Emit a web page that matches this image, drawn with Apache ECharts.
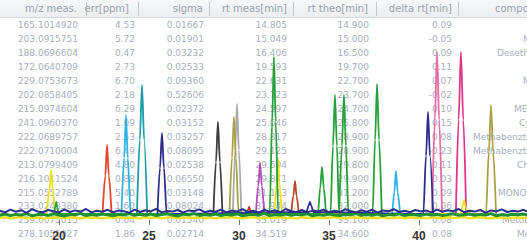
<!DOCTYPE html>
<html><head><meta charset="utf-8">
<script src="https://cdn.jsdelivr.net/npm/echarts@6/dist/echarts.min.js"></script>
<style>html,body{margin:0;padding:0;background:#fff}#c{width:527px;height:245px}</style>
</head><body><div id="c"></div>
<script>
// ---- table data (background) ----
const headers = ['m/z meas.', 'err[ppm]', 'sigma', 'rt meas[min]', 'rt theo[min]', 'delta rt[min]', 'compound'];
const mzMeas = ['165.1014920','203.0915751','188.0696604','172.0640709','229.0753673','202.0858405','215.0974604','241.0960370','222.0689757','222.0710004','213.0799409','216.1011524','215.0552789','233.0243380','259.0075015','278.1051027'];
const errPpm = ['4.53','5.72','0.47','2.73','6.70','2.18','6.29','1.09','2.53','6.49','4.80','0.88','5.40','1.60','0.64','1.86'];
const sigmaVals = ['0.01667','0.01901','0.03232','0.02533','0.09360','0.52606','0.02372','0.03152','0.03257','0.08095','0.02538','0.06550','0.03148','0.08024','0.01540','0.02714'];
const rtMeas = ['14.805','15.049','16.406','19.593','22.631','23.723','24.597','25.646','28.817','29.125','29.694','29.871','31.113','31.944','33.019','34.519'];
const rtTheo = ['14.900','15.000','16.500','19.700','22.700','23.700','24.700','25.800','28.900','28.900','29.800','29.900','31.200','32.000','33.100','34.600'];
const deltaRt = ['0.09','-0.05','0.09','0.11','0.07','-0.02','0.10','0.15','0.08','-0.23','0.11','0.03','0.09','0.06','0.08','0.08'];
const compounds = ['','Metamitron','Desethylatrazine','','Metoxuron','','METRIBUZIN','Cyanazine','Methabenzthiazuron','Methabenzthiazuron','Chlorotoluron','','MONOLINURON','','Metobromuron','Metazachlor'];

// ---- chromatogram data ----
const tickValues = [20, 25, 30, 35, 40];
const noiseStart = 16.7, noiseStep = 0.3;
const navyNoise = [4.6,3.8,5.2,4.1,4.9,3.6,5.4,4.3,3.9,5.0,4.4,3.7,5.3,4.0,4.8,4.2,5.5,3.8,4.6,4.1,
5.1,3.9,4.7,4.4,3.6,5.2,4.0,4.9,4.3,5.6,3.8,4.5,4.2,5.0,3.7,4.8,4.4,5.3,3.9,4.6,
4.1,5.2,3.8,4.7,4.3,5.4,4.0,4.6,3.7,5.1,4.2,4.9,3.9,5.5,4.4,4.0,5.0,3.8,4.7,4.3,
5.2,3.9,4.6,4.1,5.3,4.5,3.8,4.9,4.2,5.1,3.7,4.8,4.4,5.4,4.0,4.6,3.9,5.0,4.3,4.7,
3.8,5.2,4.1,4.9,4.4,5.5,3.9,4.6,4.2,5.0,3.7,4.8,4.3,5.3,4.0,4.6,4.2,5.1,3.9];
const greenNoise = [2.4,3.0,2.2,2.8,2.5,3.2,2.1,2.7,2.9,2.3,3.1,2.5,2.0,2.8,2.6,3.3,2.2,2.7,2.4,3.0,
2.6,2.1,2.9,2.5,3.2,2.3,2.8,2.4,3.0,2.2,2.7,3.1,2.5,2.0,2.9,2.6,3.2,2.3,2.7,2.4,
3.0,2.2,2.8,2.5,3.1,2.1,2.6,2.9,2.4,3.3,2.2,2.7,2.5,3.0,2.3,2.8,2.6,3.1,2.1,2.7,
2.4,3.0,2.5,2.2,2.9,2.6,3.2,2.3,2.8,2.4,3.0,2.1,2.7,2.5,3.1,2.2,2.8,2.6,2.3,3.0,
2.5,2.9,2.2,2.7,3.1,2.4,2.6,3.0,2.3,2.8,2.5,3.2,2.1,2.7,2.4,2.9,2.6,3.0,2.3];
const yellowNoise = [1.0,1.4,0.8,1.2,1.5,0.9,1.1,1.3,0.7,1.2,1.0,1.5,0.8,1.3,1.1,0.9,1.4,1.0,1.2,0.8,
1.3,1.0,1.5,0.9,1.2,1.1,0.7,1.4,1.0,1.3,0.9,1.2,1.5,0.8,1.1,1.3,1.0,1.4,0.9,1.2,
0.8,1.3,1.1,1.5,1.0,0.9,1.2,1.4,0.8,1.1,1.3,1.0,1.5,0.9,1.2,0.7,1.4,1.1,1.0,1.3,
0.9,1.2,1.5,1.0,0.8,1.3,1.1,1.4,0.9,1.2,1.0,1.5,0.8,1.1,1.3,0.9,1.4,1.0,1.2,0.8,
1.3,1.1,0.9,1.4,1.0,1.2,1.5,0.8,1.1,1.3,1.0,0.9,1.4,1.2,0.8,1.1,1.3,1.0,1.2];

const redPeaks = [[22.42,3],[22.57,22],[22.67,37.5],[22.77,22],[22.92,3]];
const skyPeaks = [[23.47,3],[23.62,31],[23.72,52.5],[23.82,31],[23.98,3],[38.5,3],[38.63,14],[38.72,24.5],[38.81,14],[38.95,3]];
const tealPeaks = [[24.33,3],[24.49,40],[24.61,67.5],[24.73,40],[24.9,3]];
const blackPeaks = [[28.58,3],[28.72,29],[28.83,49],[28.94,29],[29.08,3]];
const greyPeaks = [[29.66,3],[29.79,35],[29.89,58],[29.99,35],[30.13,3]];
const olivePeaks = [[29.47,3],[29.61,31],[29.72,51.5],[29.83,31],[29.98,3],[43.72,3],[43.88,34],[44.0,57.5],[44.12,34],[44.28,3]];
const smallRedPeaks = [[30.44,3],[30.52,5.5],[30.56,6.5],[30.62,5],[30.7,3]];
const magentaPeaks = [[30.94,3],[31.07,17],[31.17,28.5],[31.27,17],[31.4,3]];
const rustPeaks = [[32.9,3],[33.02,12],[33.11,19.5],[33.2,12],[33.32,3]];
const pinkAPeaks = [[40.73,3],[40.88,50],[41.0,84],[41.12,50],[41.28,3]];
const pinkBPeaks = [[42.05,3],[42.2,50],[42.33,84],[42.46,50],[42.62,3]];
const yellowPeaks = [[19.32,3],[19.47,15],[19.56,25],[19.65,15],[19.8,3],[31.95,3],[32.09,18],[32.17,31],[32.25,18],[32.4,3],[42.3,3],[42.43,7],[42.5,10],[42.57,7],[42.7,3]];
const greenPeaks = [[19.72,3],[19.8,7],[19.85,9],[19.9,6],[20.0,3],
  [31.7,3],[31.84,49],[31.94,81.5],[32.04,49],[32.18,3],
  [34.38,3],[34.51,16],[34.61,26.5],[34.71,16],[34.85,3],
  [35.08,3],[35.22,37],[35.33,62.5],[35.44,37],[35.56,3],
  [35.58,3],[35.72,37],[35.83,62.5],[35.94,37],[36.08,3],
  [37.42,3],[37.56,40],[37.67,68],[37.78,40],[37.93,3]];
const navyPeaks = [[25.47,3],[25.61,26],[25.72,43.5],[25.83,26],[25.98,3],
  [33.75,4],[33.86,7],[33.94,9],[34.02,7],[34.13,4],
  [40.24,3],[40.39,32],[40.5,54],[40.61,32],[40.78,3]];

// ---- layout ----
const W = 527;
const rowY0 = 25, rowH = 13.96;
const dataRight = [78, 135, 204, 287, 369, 452];
const headRight = [77, 129, 203, 287, 368, 452];
const compoundLeft = [530, 523, 497, 530, 523, 530, 514, 519, 473, 473, 517, 530, 498, 530, 502, 517];
const sepX = [86, 138, 209, 293, 376, 458];
const tableColor = '#a9b0bd';
const headColor = '#9ba2ae';
const dataFont = '9px "DejaVu Sans"';
const headFont = '10px "DejaVu Sans"';

function txt(x, y, s, align, font, color) {
  return { type: 'text', x: x, y: y, silent: true, z: 0,
    style: { text: s, font: font, fill: color, align: align, textAlign: align,
             verticalAlign: 'middle', textVerticalAlign: 'middle' } };
}
const graphics = [];
graphics.push({ type: 'rect', z: 0, silent: true, shape: { x: 0, y: 0, width: W, height: 17 },
  style: { fill: new echarts.graphic.LinearGradient(0, 0, 0, 1, [{offset:0,color:'#f7f8fa'},{offset:1,color:'#eceef1'}]) } });
graphics.push({ type: 'line', z: 0, silent: true, shape: { x1: 0, y1: 17.5, x2: W, y2: 17.5 }, style: { stroke: '#d6dae0', lineWidth: 1 } });
sepX.forEach(x => graphics.push({ type: 'line', z: 0, silent: true, shape: { x1: x + 0.5, y1: 2, x2: x + 0.5, y2: 16 }, style: { stroke: '#c4c9d1', lineWidth: 1 } }));
headers.forEach((h, i) => {
  if (i < 6) graphics.push(txt(headRight[i], 8.5, h, 'right', headFont, headColor));
  else graphics.push(txt(495, 8.5, h, 'left', headFont, headColor));
});
const cols = [mzMeas, errPpm, sigmaVals, rtMeas, rtTheo, deltaRt];
for (let r = 0; r < mzMeas.length; r++) {
  const y = rowY0 + rowH * r;
  cols.forEach((col, c) => graphics.push(txt(dataRight[c], y, col[r], 'right', dataFont, tableColor)));
  if (compounds[r]) graphics.push(txt(compoundLeft[r], y, compounds[r], 'left', dataFont, tableColor));
}

function noiseData(vals) { return vals.map((v, i) => [noiseStart + i * noiseStep, v]); }
function lineSeries(data, color, width, smooth) {
  return { type: 'line', data: data, showSymbol: false, symbol: 'none', silent: true,
    smooth: smooth, smoothMonotone: 'x', lineStyle: { color: color, width: width }, itemStyle: { color: color }, z: 2 };
}

const series = [
  lineSeries(redPeaks, '#e8462c', 1.8, 0.3),
  lineSeries(skyPeaks, '#2fb2e6', 1.8, 0.3),
  lineSeries(tealPeaks, '#1b9ca6', 1.8, 0.3),
  lineSeries(blackPeaks, '#3e3e3e', 1.8, 0.3),
  lineSeries(greyPeaks, '#a9a9a9', 1.8, 0.3),
  lineSeries(olivePeaks, '#a9a146', 1.8, 0.3),
  lineSeries(smallRedPeaks, '#c8301e', 1.8, 0.3),
  lineSeries(magentaPeaks, '#b24cb6', 1.8, 0.3),
  lineSeries(rustPeaks, '#b8482c', 1.8, 0.3),
  lineSeries(pinkAPeaks, '#e96aa6', 1.8, 0.3),
  lineSeries(pinkBPeaks, '#e03588', 1.8, 0.3),
  lineSeries(yellowPeaks, '#f2e21c', 1.8, 0.3),
  lineSeries(greenPeaks, '#27a03b', 1.8, 0.3),
  lineSeries(navyPeaks, '#2c2e8c', 1.8, 0.3),
  lineSeries(noiseData(yellowNoise), '#f2e21c', 2.4, false),
  lineSeries(noiseData(greenNoise), '#1f922f', 3, false),
  lineSeries(noiseData(navyNoise), '#2c2e8c', 2, false)
];

const chart = echarts.init(document.getElementById('c'), null, { renderer: 'svg', width: 527, height: 245 });
chart.setOption({
  animation: false,
  backgroundColor: '#ffffff',
  graphic: { elements: graphics },
  grid: { left: 0, right: 0, top: 20, bottom: 25, containLabel: false },
  xAxis: {
    type: 'value', min: 16.722, max: 46.0,
    axisLine: { show: false },
    splitLine: { show: false },
    axisTick: { show: true, customValues: tickValues, length: 5, lineStyle: { color: '#777', width: 1 } },
    axisLabel: { customValues: tickValues, margin: 10, color: '#333', fontSize: 12, fontWeight: 'bold', fontFamily: 'Liberation Sans' }
  },
  yAxis: { type: 'value', min: 0, max: 100, show: false, splitLine: { show: false } },
  series: series
});
</script></body></html>
